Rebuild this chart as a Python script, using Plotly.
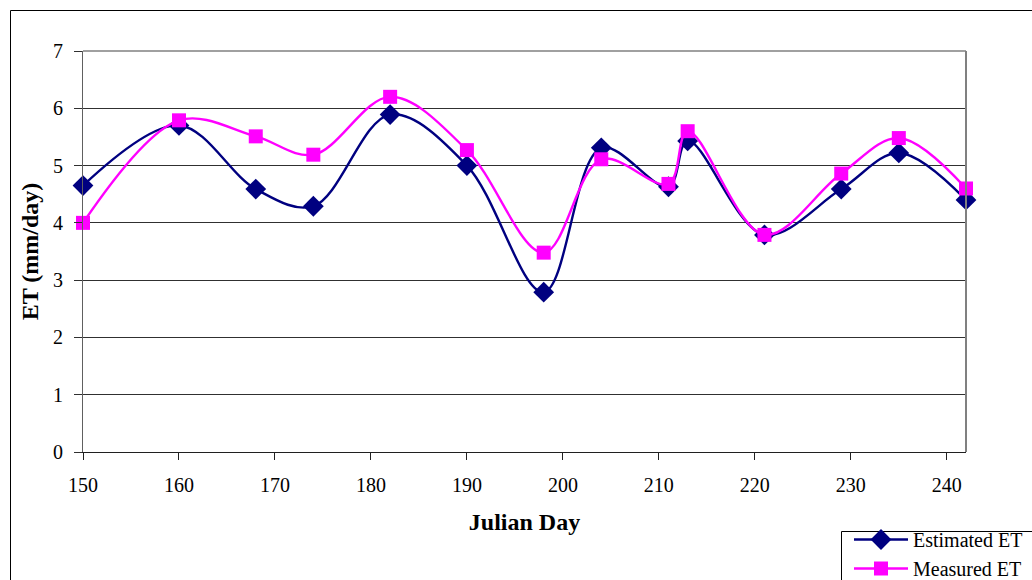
import plotly.graph_objects as go

# Julian day of each measurement
days = [150, 160, 168, 174, 182, 190, 198, 204, 211, 213, 221, 229, 235, 242]
# Evapotranspiration, mm/day
estimated_et = [4.65, 5.70, 4.59, 4.29, 5.89, 5.00, 2.79, 5.31, 4.63, 5.43, 3.79, 4.59, 5.22, 4.40]
measured_et = [4.00, 5.79, 5.51, 5.19, 6.20, 5.27, 3.48, 5.11, 4.68, 5.60, 3.79, 4.86, 5.48, 4.60]

x_ticks = list(range(150, 241, 10))
y_ticks = list(range(0, 8))

FONT = "Liberation Serif"

fig = go.Figure()
fig.add_trace(go.Scatter(
    x=days, y=estimated_et, name="Estimated ET", mode="lines+markers",
    line=dict(color="#000080", width=2.4, shape="spline", smoothing=1.0),
    marker=dict(symbol="diamond", size=16, color="#000080"),
    cliponaxis=False,
))
fig.add_trace(go.Scatter(
    x=days, y=measured_et, name="Measured ET", mode="lines+markers",
    line=dict(color="#FF00FF", width=2.4, shape="spline", smoothing=1.0),
    marker=dict(symbol="square", size=14, color="#FF00FF"),
    cliponaxis=False,
))

W, H = 1032, 580
L, R, T, B = 83, 66, 51, 128
pw, ph = W - L - R, H - T - B


def px_x(p):
    return (p - L) / pw


def px_y(p):
    return (H - B - p) / ph


fig.update_layout(
    width=W, height=H,
    margin=dict(l=L, r=R, t=T, b=B, autoexpand=False),
    paper_bgcolor="white", plot_bgcolor="white",
    font=dict(family=FONT, color="black", size=20),
    showlegend=True,
    legend=dict(
        x=px_x(849), y=px_y(520), xanchor="left", yanchor="top",
        borderwidth=0, bgcolor="rgba(0,0,0,0)",
        font=dict(family=FONT, size=20), itemwidth=54,
        tracegroupgap=0,
    ),
    xaxis=dict(
        range=[150, 242], tickvals=x_ticks, ticktext=[str(v) for v in x_ticks],
        showgrid=False, zeroline=False,
        showline=True, linecolor="#202020", linewidth=1,
        ticks="outside", ticklen=7, tickcolor="#202020",
        ticklabelstandoff=8,
        title=dict(text="<b>Julian Day</b>", font=dict(family=FONT, size=24), standoff=18),
    ),
    yaxis=dict(
        range=[0, 7], tickvals=y_ticks,
        showgrid=True, gridcolor="#303030", gridwidth=1,
        zeroline=False,
        showline=True, linecolor="#606060", linewidth=1,
        ticks="outside", ticklen=8, tickcolor="#303030",
        ticklabelstandoff=7,
        title=dict(text="<b>ET (mm/day)</b>", font=dict(family=FONT, size=24), standoff=7),
    ),
    shapes=[
        # plot area frame (top and right edges)
        dict(type="line", xref="paper", yref="paper", x0=0, x1=1, y0=1, y1=1,
             line=dict(color="#808080", width=1.5)),
        dict(type="line", xref="paper", yref="paper", x0=1, x1=1, y0=0, y1=1,
             line=dict(color="#808080", width=2)),
        # chart area border
        dict(type="rect", xref="paper", yref="paper",
             x0=px_x(10.5), x1=px_x(W + 20), y0=px_y(10.5), y1=px_y(H + 20),
             line=dict(color="black", width=1), layer="below"),
        # legend box
        dict(type="rect", xref="paper", yref="paper",
             x0=px_x(841.5), x1=px_x(W + 20), y0=px_y(531.5), y1=px_y(H + 20),
             line=dict(color="black", width=1), fillcolor="white", layer="below"),
    ],
)

fig.write_html("out.html")
